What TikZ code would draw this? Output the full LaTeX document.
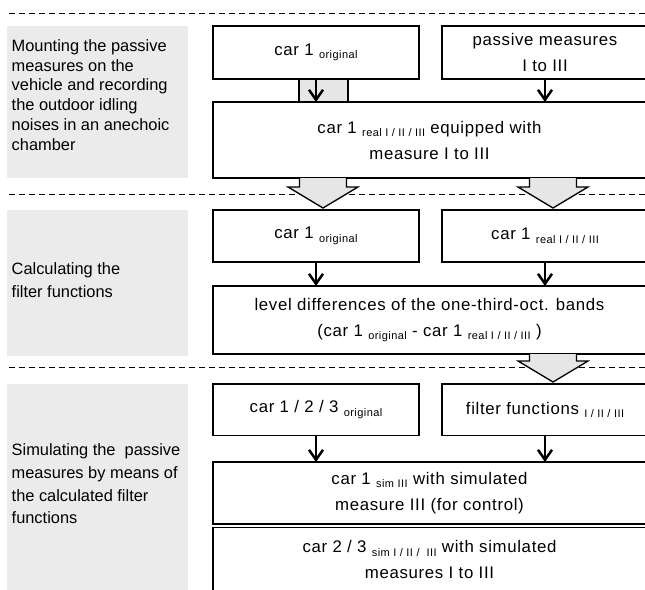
\documentclass[tikz,border=0pt]{standalone}
\usepackage{fontspec}
\setmainfont{Liberation Sans}
\newfontfamily\boxfont[LetterSpace=4]{Liberation Sans}
\usetikzlibrary{arrows.meta,calc}
\definecolor{panelgray}{HTML}{EBEBEB}
\definecolor{arrowgray}{HTML}{E6E6E6}
\newcommand\sub[1]{\raisebox{-3.5pt}{\fontsize{11}{11}\selectfont #1}}
% hollow block arrow from the bottom of one box down to a tip above the next
\newcommand\bigarrow[3]{%
  \draw[bigarr] let \p1=(#1), \p2=([shift={(#3,-2)}]#2) in
    (\x2-23.5pt,\y1) -- (\x2-23.5pt,\y2+21pt) -- (\x2-35pt,\y2+21pt) -- (\x2,\y2)
    -- (\x2+35pt,\y2+21pt) -- (\x2+23.5pt,\y2+21pt) -- (\x2+23.5pt,\y1);}

\begin{document}
\begin{tikzpicture}[x=1pt,y=-1pt,
  panel/.style={fill=panelgray,anchor=north west,minimum width=181pt,inner sep=0pt,outer sep=0pt},
  desc/.style={anchor=west,align=left,inner sep=0pt},
  box/.style={draw,line width=1.3pt,fill=white,anchor=north west,inner sep=0pt,outer sep=0pt,
    minimum width=206pt,align=center,font=\boxfont\fontsize{16.8}{26}\selectfont},
  wide/.style={box,minimum width=433pt},
  flow/.style={line width=2.5pt,-{Straight Barb[length=10pt,width=14pt,line width=2.5pt]}},
  bigarr/.style={draw,line width=1.3pt,fill=arrowgray},
  sep/.style={line width=1pt,dash pattern=on 6pt off 4pt}]
  \useasboundingbox (0,0) rectangle (645,589);
  \clip (0,0) rectangle (645,589);

  % left column
  \node[panel,minimum height=152pt] (p1) at (7,26) {};
  \node[panel,minimum height=146pt] (p2) at (7,210) {};
  \node[panel,minimum height=210pt] (p3) at (7,384) {};
  \node[desc,font=\fontsize{16.4}{19.8}\selectfont] (d1) at (11.5,95)
    {Mounting the passive\\measures on the\\vehicle and recording\\the outdoor idling\\noises in an anechoic\\chamber};
  \node[desc,font=\fontsize{16.4}{23.5}\selectfont] (d2) at (11.5,280)
    {Calculating the\\filter functions};
  \node[desc,font=\fontsize{16.4}{22.6}\selectfont] (d3) at (11.5,484)
    {Simulating the\ \ passive\\measures by means of\\the calculated filter\\functions};

  \draw[sep] (9,13) -- (645,13);
  \draw[sep] (9,194.5) -- (645,194.5);
  \draw[sep] (9,367.5) -- (645,367.5);

  % step 1
  \node[box,minimum height=53pt] (a1) at (213,26) {car 1 \sub{original}};
  \node[box,minimum height=53pt] (b1) at (442,26) {passive measures\\I to III};
  \node[wide,minimum height=76pt] (c1) at (213,102)
    {car 1 \sub{real I / II / III} equipped with\\measure I to III};
  \draw[bigarr] ([xshift=-17pt]a1.south) rectangle ([xshift=32pt]a1.south |- c1.north);
  \draw[flow] (a1.south) -- (a1.south |- c1.north);
  \draw[flow] (b1.south) -- (b1.south |- c1.north);

  % step 2
  \node[box,minimum height=52pt] (a2) at (213,210) {car 1 \sub{original}};
  \node[box,minimum height=52pt] (b2) at (442,210) {car 1 \sub{real I / II / III}};
  \node[wide,minimum height=68pt] (c2) at (213,286)
    {level differences of the one-third-oct. bands\\(car 1 \sub{original} - car 1 \sub{real I / II / III} )};
  \draw[flow] (a2.south) -- (a2.south |- c2.north);
  \draw[flow] (b2.south) -- (b2.south |- c2.north);
  \bigarrow{c1.south}{a2.north}{7}
  \bigarrow{c1.south}{b2.north}{8}

  % step 3
  \node[box,minimum height=51.5pt] (a3) at (213,384) {car 1 / 2 / 3 \sub{original}};
  \node[box,minimum height=51.5pt] (b3) at (442,384) {filter functions \sub{I / II / III}};
  \node[wide,minimum height=62pt] (c3) at (213,462)
    {car 1 \sub{sim III} with simulated\\measure III (for control)};
  \node[wide,minimum height=64pt] (d4) at (213,527.5)
    {car 2 / 3 \sub{sim I / II /\ \ III} with simulated\\measures I to III};
  \draw[flow] (a3.south) -- (a3.south |- c3.north);
  \draw[flow] (b3.south) -- (b3.south |- c3.north);
  \bigarrow{c2.south}{b3.north}{8}
\end{tikzpicture}
\end{document}
